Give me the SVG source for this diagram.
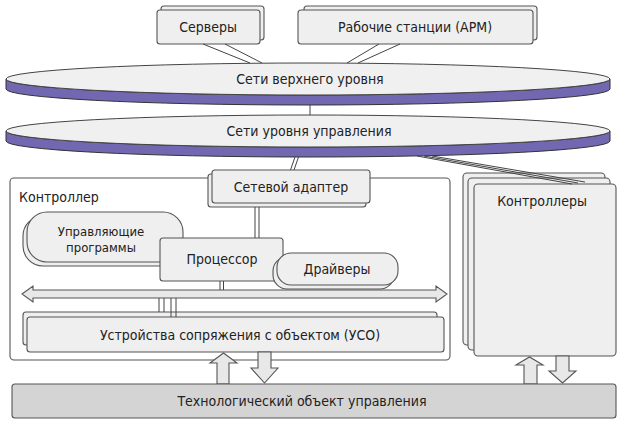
<svg xmlns="http://www.w3.org/2000/svg" width="620" height="427" viewBox="0 0 620 427">
<style>
text{font-family:"DejaVu Sans Condensed","DejaVu Sans","Liberation Sans",sans-serif;font-stretch:condensed;font-size:14px;fill:#222;}
.c{text-anchor:middle;}
.s13{font-size:13px;}
.box{fill:#efefef;stroke:#555;stroke-width:1.1;}
.wbox{fill:#fff;stroke:#555;stroke-width:1.1;}
.tech{fill:#d4d4d4;stroke:#555;stroke-width:1.1;}
.ln{stroke:#444;stroke-width:1;fill:none;}
.band{fill:#7168b1;stroke:#333;stroke-width:1;}
.top{fill:#f0f0f0;stroke:#444;stroke-width:1;}
.arr{fill:#e8e8e8;stroke:#555;stroke-width:1.1;}
</style>

<g id="servers">
  <rect class="box" x="161" y="6" width="103" height="34" rx="3"/>
  <rect class="box" x="157" y="10" width="103" height="34" rx="3"/>
  <text class="c" x="208" y="32">Серверы</text>
</g>
<g id="workstations">
  <rect class="box" x="304" y="6" width="233" height="34" rx="3"/>
  <rect class="box" x="298" y="10" width="235" height="34" rx="3"/>
  <text class="c" x="415" y="32">Рабочие станции (АРМ)</text>
</g>

<g id="net-top">
  <path class="band" d="M6,79 A302,16 0 0 0 610,79 L610,89 A302,16 0 0 1 6,89 Z"/>
  <ellipse class="top" cx="308" cy="79" rx="302" ry="16"/>
  <text class="c" x="310" y="84">Сети верхнего уровня</text>
</g>
<g id="net-control">
  <path class="band" d="M6,131 A302,16 0 0 0 610,131 L610,141 A302,16 0 0 1 6,141 Z"/>
  <ellipse class="top" cx="308" cy="131" rx="302" ry="16"/>
  <text class="c" x="309" y="136">Сети уровня управления</text>
</g>

<g id="controller">
  <rect class="wbox" x="10" y="178" width="440" height="182" rx="4"/>
  <text x="19" y="202">Контроллер</text>
</g>

<g id="controllers">
  <rect class="box" x="463" y="173" width="142" height="172" rx="4"/>
  <rect class="box" x="468" y="178" width="142" height="172" rx="4"/>
  <rect class="box" x="474" y="184" width="142" height="172" rx="4"/>
  <text class="c" x="542" y="206">Контроллеры</text>
</g>

<g id="adapter">
  <rect class="box" x="208" y="174" width="158" height="33" rx="3"/>
  <rect class="box" x="212" y="170" width="158" height="33" rx="3"/>
  <text class="c" x="291" y="192">Сетевой адаптер</text>
</g>

<g id="programs">
  <rect class="box" x="23" y="216" width="156" height="50" rx="20"/>
  <rect class="box" x="27" y="212" width="156" height="50" rx="20"/>
  <text class="c s13" x="101" y="236">Управляющие</text>
  <text class="c s13" x="101" y="252">программы</text>
</g>

<g id="processor">
  <rect class="box" x="160" y="238" width="123" height="43" rx="3"/>
  <text class="c" x="222" y="264">Процессор</text>
</g>

<g id="drivers">
  <rect class="box" x="273" y="257" width="121" height="32" rx="14"/>
  <rect class="box" x="277" y="253" width="121" height="32" rx="14"/>
  <text class="c" x="337" y="274">Драйверы</text>
</g>

<g id="bus">
  <path class="arr" d="M22,294 L33,286 L33,290 L436,290 L436,286 L447,294 L436,302 L436,298 L33,298 L33,302 Z"/>
</g>

<g id="uso">
  <rect class="box" x="23" y="312" width="414" height="33" rx="3"/>
  <rect class="box" x="27" y="317" width="417" height="35" rx="3"/>
  <text class="c" x="240" y="340">Устройства сопряжения с объектом (УСО)</text>
</g>

<g id="io-arrows">
  <path class="arr" d="M217,384 L217,363 L210,363 L223.5,353 L237,363 L229,363 L229,384 Z"/>
  <path class="arr" d="M258,352 L271,352 L271,368 L278,368 L264.5,383 L251,368 L258,368 Z"/>
  <path class="arr" d="M524,384 L524,365 L516,365 L529.5,357 L543,365 L537,365 L537,384 Z"/>
  <path class="arr" d="M556,356 L569,356 L569,371 L576,371 L562.5,383 L549,371 L556,371 Z"/>
</g>

<g id="tech-object">
  <rect class="tech" x="12" y="384" width="604" height="34" rx="3"/>
  <text class="c" x="302" y="406">Технологический объект управления</text>
</g>

<g id="connectors">
  <line class="ln" x1="203" y1="44" x2="250" y2="63"/>
  <line class="ln" x1="225" y1="44" x2="262" y2="63"/>
  <line class="ln" x1="379" y1="44" x2="347" y2="63"/>
  <line class="ln" x1="400" y1="44" x2="358" y2="63"/>
  <line class="ln" x1="310" y1="105" x2="310" y2="115"/>
  <line class="ln" x1="295" y1="157" x2="290.5" y2="170"/>
  <line class="ln" x1="298.5" y1="157" x2="294" y2="170"/>
  <line class="ln" x1="417" y1="156" x2="572" y2="184"/>
  <line class="ln" x1="424" y1="156" x2="578" y2="183"/>
  <line class="ln" x1="432" y1="156" x2="585" y2="182"/>
  <line class="ln" x1="255" y1="207" x2="255" y2="238"/>
  <line class="ln" x1="259" y1="207" x2="259" y2="238"/>
  <line class="ln" x1="220" y1="281" x2="220" y2="290"/>
  <line class="ln" x1="223.5" y1="281" x2="223.5" y2="290"/>
  <line class="ln" x1="159" y1="298" x2="159" y2="312"/>
  <line class="ln" x1="164" y1="298" x2="164" y2="312"/>
  <line class="ln" x1="171" y1="298" x2="171" y2="317"/>
  <line class="ln" x1="176" y1="298" x2="176" y2="317"/>
</g>
</svg>
